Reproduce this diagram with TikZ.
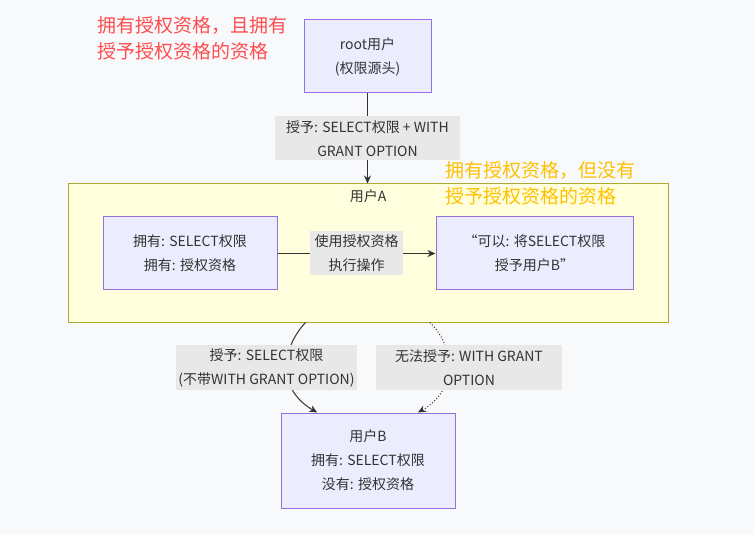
\documentclass[tikz,border=0pt]{standalone}
\usepackage{fontspec}
\setmainfont{Noto Sans CJK SC}
\usetikzlibrary{arrows.meta, positioning, calc}

\definecolor{pagebg}{HTML}{F8F9FB}
\definecolor{boxfill}{HTML}{ECECFF}
\definecolor{boxline}{HTML}{9370DB}
\definecolor{groupfill}{HTML}{FFFFDE}
\definecolor{groupline}{HTML}{AAAA33}
\definecolor{labelfill}{HTML}{E8E8E8}
\definecolor{inktext}{HTML}{333333}
\definecolor{notered}{HTML}{FF4D4F}
\definecolor{noteyellow}{HTML}{FFC000}

\begin{document}
\begin{tikzpicture}[
    x=1pt, y=-1pt,
    every node/.style={font=\fontsize{14}{24}\selectfont, text=inktext},
    userbox/.style={rectangle, draw=boxline, fill=boxfill, line width=1pt, align=center, inner sep=0pt},
    group/.style={rectangle, draw=groupline, fill=groupfill, line width=1pt, inner sep=0pt},
    edgelabel/.style={rectangle, fill=labelfill, align=center, inner sep=0pt},
    note/.style={font=\fontsize{19}{26}\selectfont, align=left, anchor=north west},
    arrow/.style={-{Stealth[length=8pt, width=7pt]}, line width=1pt, inktext},
    darrow/.style={-{Stealth[length=8pt, width=7pt]}, line width=1pt, inktext, dotted}
]

% background
\fill[pagebg] (0,0) rectangle (754,534);
\useasboundingbox (0,0) rectangle (754,534);

% ============ ROOT ============
\node[userbox, minimum width=127pt, minimum height=73pt] (root) at (367.5, 56.5) {root用户\\(权限源头)};
\node[note, text=notered] (rootnote) at (94, 13) {拥有授权资格，且拥有\\授予授权资格的资格};

% ============ USER A ============
\node[group, minimum width=600pt, minimum height=138pt] (usera) at (368, 253) {};
\node (useratitle) at (368, 196) {用户A};
\node[userbox, minimum width=174pt, minimum height=73pt] (ahas) at (190, 253.5) {拥有: SELECT权限\\拥有: 授权资格};
\node[userbox, minimum width=197pt, minimum height=73pt] (acan) at (534.5, 253.5) {“可以: 将SELECT权限\\授予用户B”};
\node[note, text=noteyellow] (anote) at (442, 158) {拥有授权资格，但没有\\授予授权资格的资格};

% ============ USER B ============
\node[userbox, minimum width=174pt, minimum height=95pt] (userb) at (368, 460.5) {用户B\\拥有: SELECT权限\\没有: 授权资格};

% ============ ARROWS ============
% root to user A
\draw[arrow] (root.south) -- (root.south |- usera.north)
    node[edgelabel, midway, minimum width=185pt, minimum height=44pt] (grantall) {授予: SELECT权限 + WITH\\GRANT OPTION};

% inside user A
\draw[arrow] (ahas.east) -- (acan.west)
    node[edgelabel, midway, minimum width=93pt, minimum height=44pt] (useopt) {使用授权资格\\执行操作};

% user A to user B
\coordinate (aoutl) at ($(usera.south west)!0.396!(usera.south east)$);
\coordinate (aoutr) at ($(usera.south west)!0.603!(usera.south east)$);
\coordinate (binl) at ($(userb.north west)!0.21!(userb.north east)$);
\coordinate (binr) at ($(userb.north west)!0.785!(userb.north east)$);
\draw[arrow] (aoutl) .. controls (280, 350) and (278, 390) .. (binl);
\draw[darrow] (aoutr) .. controls (458, 350) and (455, 392) .. (binr);
\node[edgelabel, minimum width=181pt, minimum height=45pt] (grantsel) at (266.5, 367.5) {授予: SELECT权限\\(不带WITH GRANT OPTION)};
\node[edgelabel, minimum width=186pt, minimum height=45pt] (nogrant) at (469, 367.5) {无法授予: WITH GRANT\\OPTION};

\end{tikzpicture}
\end{document}
